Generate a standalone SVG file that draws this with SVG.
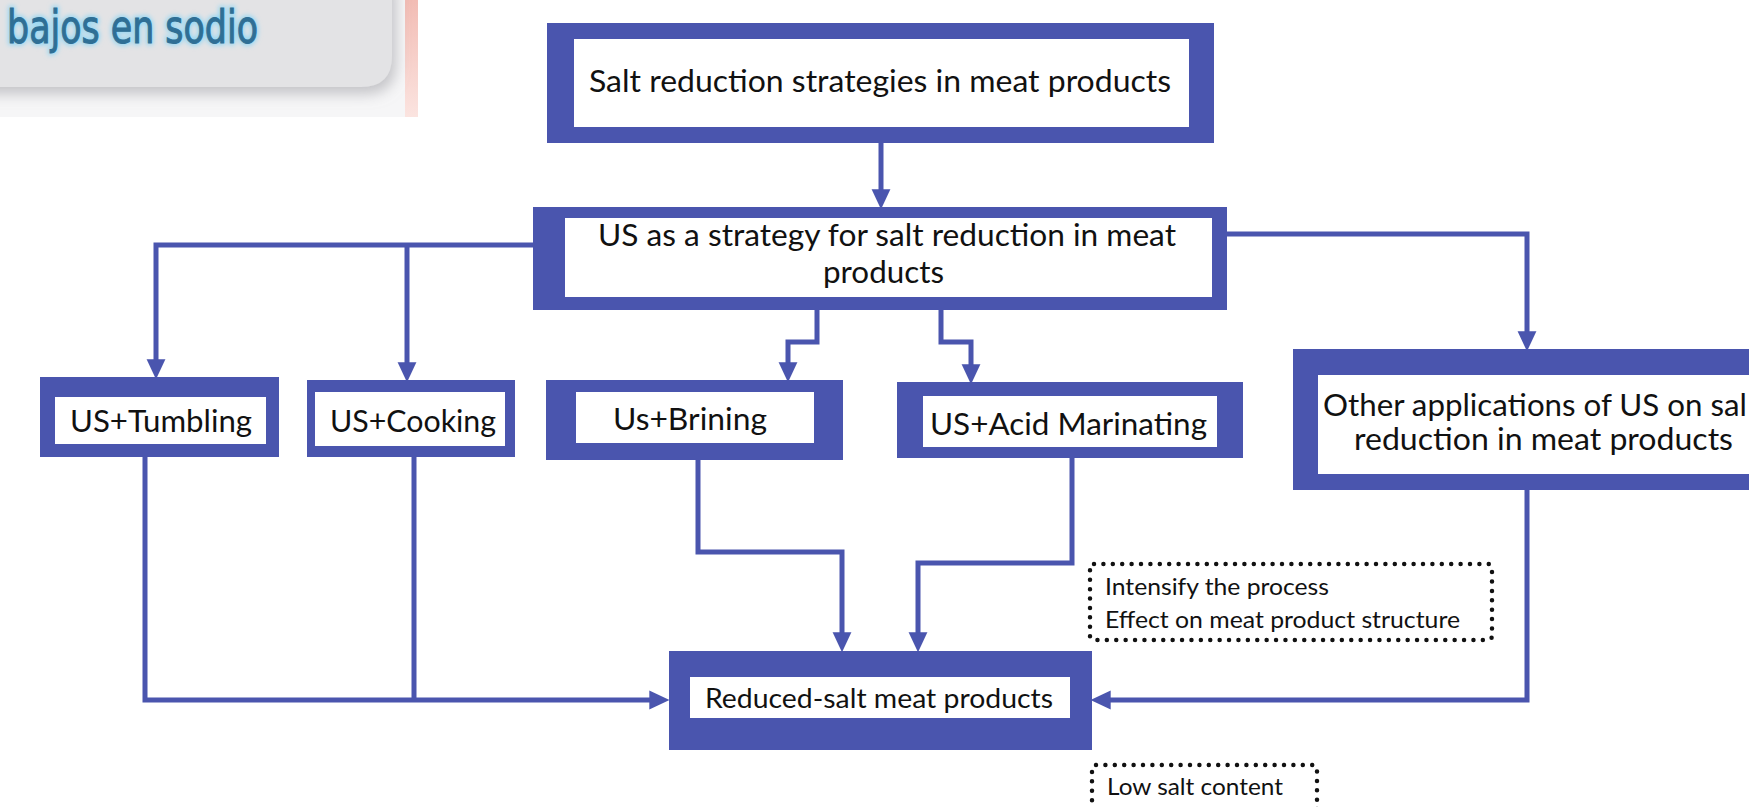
<svg xmlns="http://www.w3.org/2000/svg" width="1749" height="807" viewBox="0 0 1749 807">
<defs>
<style>
.frame{fill:#4a55ae}
.inner{fill:#ffffff}
.lbl{font-family:Lato,"Open Sans","Liberation Sans",sans-serif;fill:#111111;font-size:30.5px}
.small{font-size:24px}
.conn{fill:none;stroke:#4a55ae;stroke-width:5}
.dot{fill:none;stroke:#111111;stroke-width:4.5;stroke-linecap:round;stroke-dasharray:0 9.4}
.brand{font-family:"DejaVu Sans Condensed","DejaVu Sans",sans-serif;font-stretch:condensed;font-size:47px}
</style>
<marker id="arr" markerUnits="userSpaceOnUse" markerWidth="20" markerHeight="20" viewBox="0 0 17 16" refX="4" refY="8" orient="auto">
<path d="M0,0 L17,8 L0,16 Z" fill="#4a55ae"/>
</marker>
<filter id="shadow" x="-10%" y="-20%" width="130%" height="160%">
<feGaussianBlur in="SourceAlpha" stdDeviation="7"/>
<feOffset dx="4" dy="7" result="b"/>
<feFlood flood-color="#9a9aa0" flood-opacity="0.55"/>
<feComposite in2="b" operator="in"/>
<feMerge><feMergeNode/><feMergeNode in="SourceGraphic"/></feMerge>
</filter>
<filter id="glow" x="-10%" y="-30%" width="120%" height="160%">
<feGaussianBlur stdDeviation="2.5"/>
</filter>
<linearGradient id="pink" x1="0" y1="0" x2="0" y2="1">
<stop offset="0" stop-color="#f2bcb4"/>
<stop offset="1" stop-color="#fbe4e0"/>
</linearGradient>
</defs>
<rect width="1749" height="807" fill="#ffffff"/>

<g id="corner-image">
<rect x="0" y="0" width="418" height="117" fill="#f6f6f7"/>
<rect x="405" y="0" width="13" height="117" fill="url(#pink)"/>
<path d="M-20,-20 H392 V56 Q392,87 361,87 H-20 Z" fill="#e3e3e5" filter="url(#shadow)"/>
<text class="brand" x="7" y="43" textLength="251" lengthAdjust="spacingAndGlyphs" fill="#8fd6f4" stroke="#8fd6f4" stroke-width="4" filter="url(#glow)">bajos en sodio</text>
<text class="brand" x="7" y="43" textLength="251" lengthAdjust="spacingAndGlyphs" fill="#2f6f95" stroke="#2f6f95" stroke-width="1">bajos en sodio</text>
</g>

<g id="connectors">
<path class="conn" d="M881,143 V194" marker-end="url(#arr)"/>
<path class="conn" d="M533,245 H156 V364" marker-end="url(#arr)"/>
<path class="conn" d="M407,245 V367" marker-end="url(#arr)"/>
<path class="conn" d="M1227,234 H1527 V336" marker-end="url(#arr)"/>
<path class="conn" d="M817,310 V342 H788 V367" marker-end="url(#arr)"/>
<path class="conn" d="M941,310 V342 H971 V369" marker-end="url(#arr)"/>
<path class="conn" d="M145,457 V700 H654" marker-end="url(#arr)"/>
<path class="conn" d="M414,457 V700"/>
<path class="conn" d="M698,460 V552 H842 V637" marker-end="url(#arr)"/>
<path class="conn" d="M1072,458 V563 H918 V637" marker-end="url(#arr)"/>
<path class="conn" d="M1527,490 V700 H1106" marker-end="url(#arr)"/>
</g>

<g id="node-salt-reduction-strategies">
<rect class="frame" x="547" y="23" width="667" height="120"/>
<rect class="inner" x="574" y="39" width="615" height="88"/>
<text class="lbl" x="589" y="92" textLength="582" lengthAdjust="spacingAndGlyphs">Salt reduction strategies in meat products</text>
</g>

<g id="node-us-strategy">
<rect class="frame" x="533" y="207" width="694" height="103"/>
<rect class="inner" x="565" y="218" width="647" height="79"/>
<text class="lbl" x="598" y="246" textLength="578" lengthAdjust="spacingAndGlyphs">US as a strategy for salt reduction in meat</text>
<text class="lbl" x="823" y="283" textLength="121" lengthAdjust="spacingAndGlyphs">products</text>
</g>

<g id="node-us-tumbling">
<rect class="frame" x="40" y="377" width="239" height="80"/>
<rect class="inner" x="55" y="397" width="211" height="47"/>
<text class="lbl" x="70" y="432" textLength="182" lengthAdjust="spacingAndGlyphs">US+Tumbling</text>
</g>

<g id="node-us-cooking">
<rect class="frame" x="307" y="380" width="208" height="77"/>
<rect class="inner" x="315" y="392" width="190" height="54"/>
<text class="lbl" x="330" y="432" textLength="166" lengthAdjust="spacingAndGlyphs">US+Cooking</text>
</g>

<g id="node-us-brining">
<rect class="frame" x="546" y="380" width="297" height="80"/>
<rect class="inner" x="576" y="392" width="238" height="51"/>
<text class="lbl" x="613" y="430" textLength="154" lengthAdjust="spacingAndGlyphs">Us+Brining</text>
</g>

<g id="node-us-acid-marinating">
<rect class="frame" x="897" y="382" width="346" height="76"/>
<rect class="inner" x="923" y="396" width="294" height="51"/>
<text class="lbl" x="930" y="435" textLength="277" lengthAdjust="spacingAndGlyphs">US+Acid Marinating</text>
</g>

<g id="node-other-applications">
<rect class="frame" x="1293" y="349" width="470" height="141"/>
<rect class="inner" x="1318" y="375" width="445" height="99"/>
<text class="lbl" x="1323" y="416" textLength="424" lengthAdjust="spacingAndGlyphs">Other applications of US on sal</text>
<text class="lbl" x="1354" y="450" textLength="379" lengthAdjust="spacingAndGlyphs">reduction in meat products</text>
</g>

<g id="node-reduced-salt">
<rect class="frame" x="669" y="651" width="423" height="99"/>
<rect class="inner" x="690" y="677" width="380" height="41"/>
<text class="lbl" x="705" y="708" style="font-size:27px" textLength="348" lengthAdjust="spacingAndGlyphs">Reduced-salt meat products</text>
</g>

<g id="note-process">
<rect class="dot" x="1090" y="564" width="402" height="76" rx="4"/>
<text class="lbl small" x="1105" y="595" textLength="224" lengthAdjust="spacingAndGlyphs">Intensify the process</text>
<text class="lbl small" x="1105" y="628" textLength="355" lengthAdjust="spacingAndGlyphs">Effect on meat product structure</text>
</g>

<g id="note-low-salt">
<rect class="dot" x="1092" y="765" width="225" height="70" rx="4"/>
<text class="lbl small" x="1107" y="795" textLength="176" lengthAdjust="spacingAndGlyphs">Low salt content</text>
</g>
</svg>
